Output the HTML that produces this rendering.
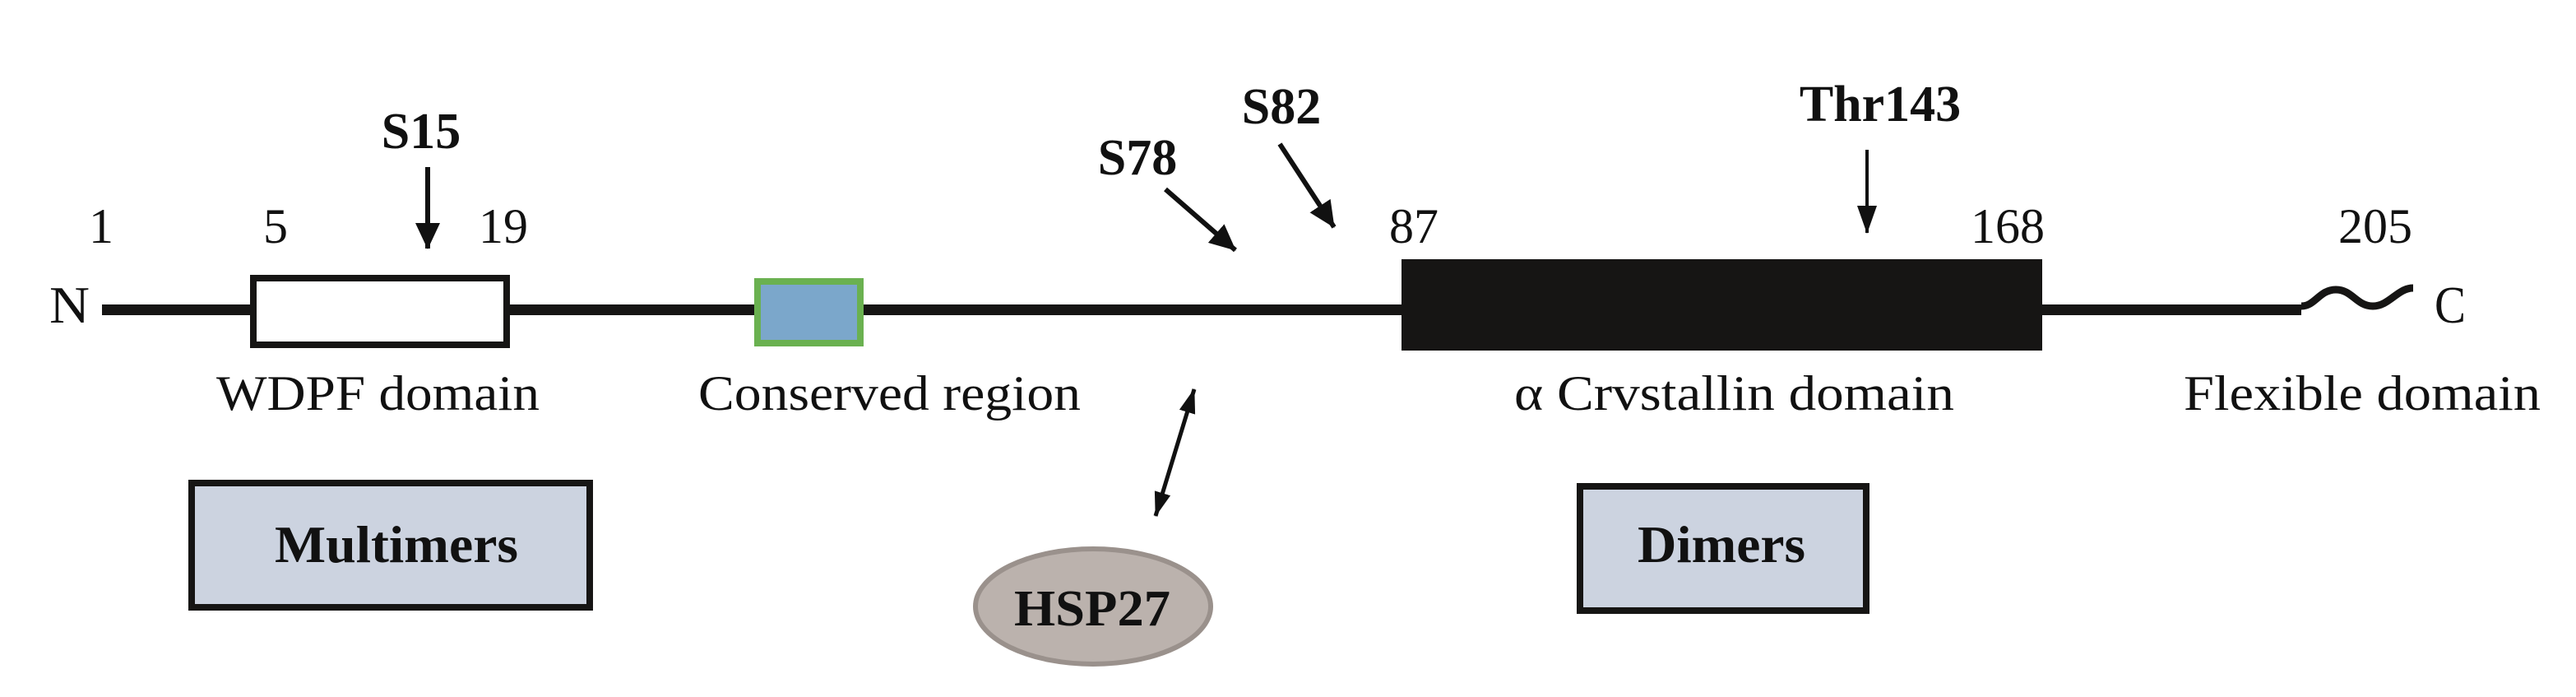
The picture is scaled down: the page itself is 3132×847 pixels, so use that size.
<!DOCTYPE html>
<html><head><meta charset="utf-8"><style>
html,body{margin:0;padding:0;background:#fff;}
svg{display:block;}
text{font-family:"Liberation Serif","Times New Roman",serif;fill:#111;}
.b{font-weight:bold;}
</style></head><body>
<svg width="3132" height="847" viewBox="0 0 3132 847" xmlns="http://www.w3.org/2000/svg">
<defs>
<marker id="ah" viewBox="0 0 32 30" refX="31" refY="15" markerWidth="32" markerHeight="30" markerUnits="userSpaceOnUse" orient="auto-start-reverse">
<path d="M0,0 L32,15 L0,30 z" fill="#111"/></marker>
<marker id="ah3" viewBox="0 0 34 24" refX="33" refY="12" markerWidth="34" markerHeight="24" markerUnits="userSpaceOnUse" orient="auto-start-reverse">
<path d="M0,0 L34,12 L0,24 z" fill="#111"/></marker>
<marker id="ah2" viewBox="0 0 30 20" refX="29" refY="10" markerWidth="30" markerHeight="20" markerUnits="userSpaceOnUse" orient="auto-start-reverse">
<path d="M0,0 L30,10 L0,20 z" fill="#111"/></marker>
</defs>
<rect x="124" y="370" width="2674" height="13" fill="#161514"/>
<path d="M2798,372 C2815,372 2820,352 2840,352 C2860,352 2865,372 2885,372 C2905,372 2915,350 2934,350" fill="none" stroke="#161514" stroke-width="9"/>
<rect x="308" y="338" width="308" height="81" fill="#fff" stroke="#161514" stroke-width="8"/>
<rect x="921" y="342" width="125" height="75" fill="#7BA7CB" stroke="#6AB150" stroke-width="8"/>
<rect x="1704" y="315" width="779" height="111" fill="#161514"/>
<rect x="233" y="587" width="484" height="151" fill="#CCD3E0" stroke="#161514" stroke-width="8"/>
<rect x="1921" y="591" width="348" height="151" fill="#CCD3E0" stroke="#161514" stroke-width="8"/>
<ellipse cx="1329" cy="737" rx="143" ry="70" fill="#BBB2AD" stroke="#9a918c" stroke-width="6"/>
<line x1="520" y1="203" x2="520" y2="302" stroke="#111" stroke-width="6" marker-end="url(#ah)"/>
<line x1="1417" y1="230" x2="1502" y2="304" stroke="#111" stroke-width="6" marker-end="url(#ah)"/>
<line x1="1556" y1="175" x2="1622" y2="276" stroke="#111" stroke-width="6" marker-end="url(#ah)"/>
<line x1="2270" y1="182" x2="2270" y2="283" stroke="#111" stroke-width="4" marker-end="url(#ah3)"/>
<line x1="1452" y1="473" x2="1405" y2="627" stroke="#111" stroke-width="5" marker-start="url(#ah2)" marker-end="url(#ah2)"/>
<text x="512" y="180" font-size="62" class="b" text-anchor="middle">S15</text>
<text x="1383" y="212" font-size="62" class="b" text-anchor="middle">S78</text>
<text x="1558" y="150" font-size="62" class="b" text-anchor="middle">S82</text>
<text x="2286" y="147" font-size="62" class="b" text-anchor="middle">Thr143</text>
<text x="123" y="295" font-size="60" text-anchor="middle">1</text>
<text x="335" y="295" font-size="60" text-anchor="middle">5</text>
<text x="612" y="295" font-size="60" text-anchor="middle">19</text>
<text x="1719" y="295" font-size="60" text-anchor="middle">87</text>
<text x="2441" y="295" font-size="60" text-anchor="middle">168</text>
<text x="2888" y="295" font-size="60" text-anchor="middle">205</text>
<text x="60" y="392" font-size="64" textLength="49" lengthAdjust="spacingAndGlyphs">N</text>
<text x="2960" y="392" font-size="64" textLength="38" lengthAdjust="spacingAndGlyphs">C</text>
<text x="263" y="498" font-size="60" textLength="393" lengthAdjust="spacingAndGlyphs">WDPF domain</text>
<text x="849" y="498" font-size="60" textLength="465" lengthAdjust="spacingAndGlyphs">Conserved region</text>
<text x="1841" y="498" font-size="60" textLength="535" lengthAdjust="spacingAndGlyphs">α Crvstallin domain</text>
<text x="2655" y="498" font-size="60" textLength="434" lengthAdjust="spacingAndGlyphs">Flexible domain</text>
<text x="334" y="683" font-size="64" class="b" textLength="296" lengthAdjust="spacingAndGlyphs">Multimers</text>
<text x="1991" y="683" font-size="64" class="b" textLength="204" lengthAdjust="spacingAndGlyphs">Dimers</text>
<text x="1233" y="760" font-size="62" class="b" textLength="190" lengthAdjust="spacingAndGlyphs">HSP27</text>
</svg>
</body></html>
